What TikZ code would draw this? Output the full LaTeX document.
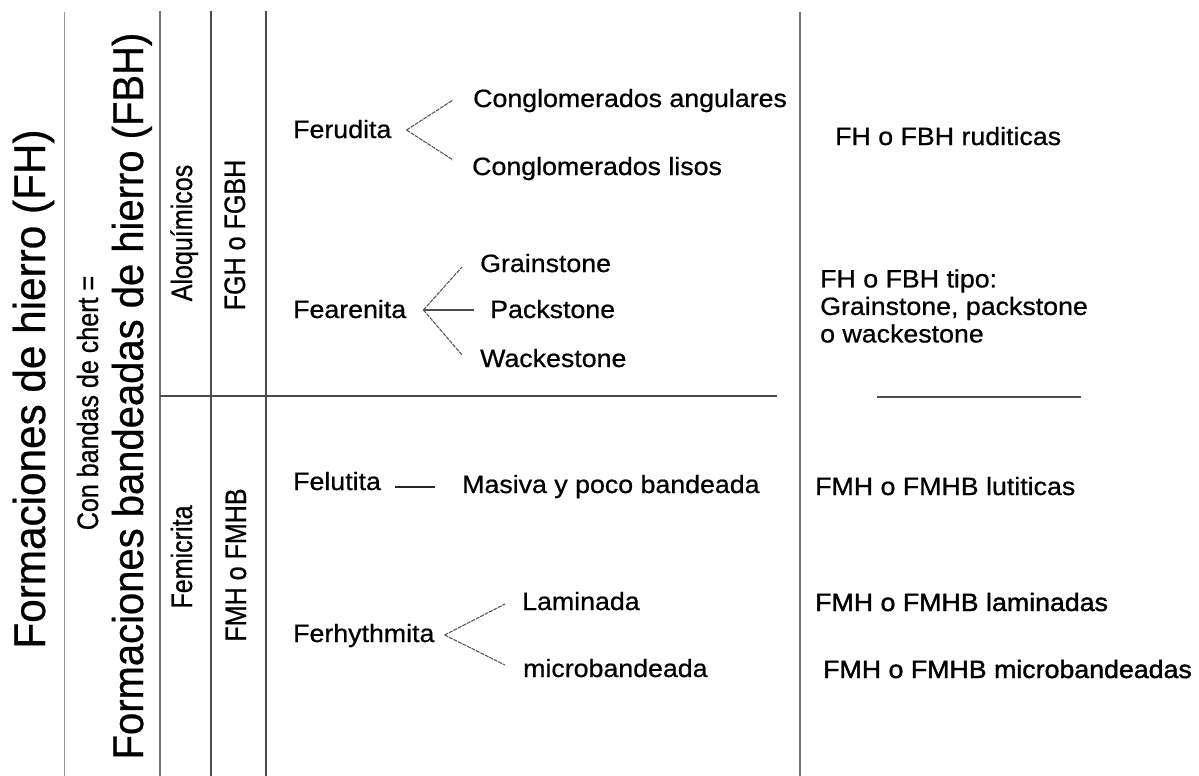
\documentclass[tikz,border=0pt]{standalone}
\usepackage{fontspec}
\setmainfont{Liberation Sans}
\newfontfamily\hfont[FakeStretch=1.07,FakeBold=0.7]{Liberation Sans}
\newfontfamily\hbfont[FakeStretch=1.07,FakeBold=1.5]{Liberation Sans}
\newfontfamily\vfont[FakeStretch=0.85,FakeBold=0.7]{Liberation Sans}
\newfontfamily\fhfont[FakeStretch=0.95,FakeBold=0.6]{Liberation Sans}
\newfontfamily\fbhfont[FakeStretch=0.93,FakeBold=0.6]{Liberation Sans}
\tikzset{
  txt/.style={font=\hfont\fontsize{25}{27.5}\selectfont, inner sep=0pt, anchor=base west, text=black},
  txtb/.style={txt, font=\hbfont\fontsize{25}{27.5}\selectfont},
  vtxt/.style={font=\vfont\fontsize{29.5}{30}\selectfont, inner sep=0pt, anchor=base, rotate=90},
  fhtxt/.style={font=\fhfont\fontsize{44.5}{46}\selectfont, inner sep=0pt, anchor=base, rotate=90},
  fbhtxt/.style={font=\fbhfont\fontsize{43}{45}\selectfont, inner sep=0pt, anchor=base, rotate=90},
  branch/.style={draw=black!65, line width=1.1pt, dash pattern=on 4pt off 1pt},
  solidbranch/.style={draw=black!70, line width=1.4pt},
  rulelight/.style={draw=black!40, line width=0.8pt},
  rulemid/.style={draw=black!55, line width=1.3pt},
  ruledark/.style={draw=black!70, line width=1.8pt},
}
\begin{document}
\begin{tikzpicture}[x=1pt,y=-1pt]
\useasboundingbox[fill=white] (0,0) rectangle (1199,776);

% table rules
\draw[rulelight] (64,12) -- (64,776);
\draw[rulemid]  (160,11) -- (160,776);
\draw[ruledark] (211,11) -- (211,776);
\draw[ruledark] (266,11) -- (266,776);
\draw[rulemid]  (800,12) -- (800,776);
\draw[ruledark] (160,396) -- (777,396);
\draw[ruledark] (877,397) -- (1081,397);

% vertical titles
\node[fhtxt]  (fh)  at (45,389)  {Formaciones de hierro (FH)};
\node[vtxt]   (con) at (98,403)  {Con bandas de chert =};
\node[fbhtxt] (fbh) at (143,396) {Formaciones bandeadas de hierro (FBH)};
\node[vtxt]   (alo) at (192,233) {Aloquímicos};
\node[vtxt]   (fgh) at (245,235) {FGH o FGBH};
\node[vtxt]   (fem) at (192,557) {Femicrita};
\node[vtxt]   (fmh) at (246,565) {FMH o FMHB};

% second level
\node[txt] (fer) at (293,138) {Ferudita};
\node[txt] (ca)  at (473,107) {Conglomerados angulares};
\node[txt] (cl)  at (472,175) {Conglomerados lisos};
\node[txt] (fea) at (293,318) {Fearenita};
\node[txt] (gs)  at (480,272) {Grainstone};
\node[txt] (pk)  at (490,318) {Packstone};
\node[txt] (wk)  at (480,367) {Wackestone};
\node[txt] (fel) at (293,490) {Felutita};
\node[txt] (mas) at (462,493) {Masiva y poco bandeada};
\node[txt] (frh) at (293,642) {Ferhythmita};
\node[txt] (lam) at (522,610) {Laminada};
\node[txt] (mic) at (523,677) {microbandeada};

% right column
\node[txt]  (r1) at (835,145) {FH o FBH ruditicas};
\node[txt, anchor=west, align=left] (r2) at (820,306) {FH o FBH tipo:\\Grainstone, packstone\\o wackestone};
\node[txt]  (r3) at (815,495) {FMH o FMHB lutiticas};
\node[txtb] (r4) at (815,611) {FMH o FMHB laminadas};
\node[txtb] (r5) at (823,678) {FMH o FMHB microbandeadas};

% branches
\draw[branch] ([xshift=15pt,yshift=8pt]fer.base east) -- ([xshift=-20pt,yshift=7pt]ca.base west);
\draw[branch] ([xshift=15pt,yshift=8pt]fer.base east) -- ([xshift=-19pt,yshift=15pt]cl.base west);
\draw[branch] ([xshift=17pt,yshift=8pt]fea.base east) -- ([xshift=-18pt,yshift=5pt]gs.base west);
\draw[solidbranch] ([xshift=17pt,yshift=8pt]fea.base east) -- ([xshift=-16pt,yshift=8pt]pk.base west);
\draw[branch] ([xshift=17pt,yshift=8pt]fea.base east) -- ([xshift=-18pt,yshift=12pt]wk.base west);
\draw[draw=black!85, line width=1.3pt] ([xshift=14pt,yshift=3pt]fel.base east) -- ([xshift=-27pt,yshift=6pt]mas.base west);
\draw[branch] ([xshift=10pt,yshift=7pt]frh.base east) -- ([xshift=-17pt,yshift=6pt]lam.base west);
\draw[branch] ([xshift=10pt,yshift=7pt]frh.base east) -- ([xshift=-18pt,yshift=12pt]mic.base west);
\end{tikzpicture}
\end{document}
